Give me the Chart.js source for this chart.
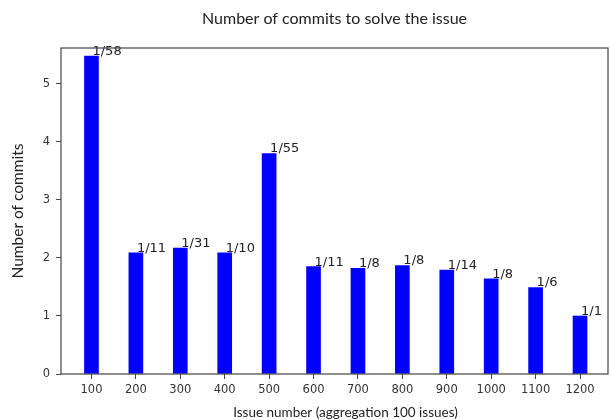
<!DOCTYPE html>
<html>
<head>
<meta charset="utf-8">
<script src="https://cdn.jsdelivr.net/npm/chart.js@4/dist/chart.umd.min.js"></script>
<style>
  html, body { margin: 0; padding: 0; background: #fff; }
  #wrap { width: 610px; height: 420px; }
</style>
</head>
<body>
<div id="wrap"><canvas id="commitsChart" width="610" height="420"></canvas></div>
<script>
// Issue buckets (aggregated by 100 issues)
const issues = [100, 200, 300, 400, 500, 600, 700, 800, 900, 1000, 1100, 1200];
// Average commits per issue in each bucket
const commits = [5.48, 2.09, 2.17, 2.09, 3.80, 1.85, 1.82, 1.87, 1.79, 1.64, 1.49, 1.0];
// Text shown on top of each bar
const barLabels = ['1/58', '1/11', '1/31', '1/10', '1/55', '1/11', '1/8', '1/8', '1/14', '1/8', '1/6', '1/1'];
const yTicks = [0, 1, 2, 3, 4, 5];

const tickFont = { family: 'DejaVu Sans', size: 11.5 };
const textFont = 'Lato';
const xCaption = 'Issue number (aggregation 100 issues)';

// Box around the plot area
const framePlugin = {
  id: 'frame',
  afterDraw(chart) {
    const { ctx, chartArea: a } = chart;
    ctx.save();
    ctx.strokeStyle = '#444';
    ctx.lineWidth = 1.2;
    ctx.strokeRect(a.left, a.top, a.right - a.left, a.bottom - a.top);
    ctx.restore();
  }
};

// "1/58" style labels just right of each bar top
const barTextPlugin = {
  id: 'barText',
  afterDatasetsDraw(chart) {
    const { ctx } = chart;
    const meta = chart.getDatasetMeta(0);
    ctx.save();
    ctx.font = '13px "DejaVu Sans"';
    ctx.fillStyle = '#222';
    ctx.textAlign = 'left';
    ctx.textBaseline = 'bottom';
    meta.data.forEach((bar, i) => {
      ctx.fillText(barLabels[i], bar.x + 1, bar.y + 2);
    });
    ctx.restore();
  }
};

// x axis caption, sits a little right of the plot centre
const xCaptionPlugin = {
  id: 'xCaption',
  afterDraw(chart) {
    const { ctx, chartArea: a } = chart;
    ctx.save();
    ctx.font = '13.5px ' + textFont;
    ctx.fillStyle = '#222';
    ctx.textAlign = 'center';
    ctx.textBaseline = 'middle';
    ctx.fillText(xCaption, (a.left + a.right) / 2 + 11, chart.height - 7);
    ctx.restore();
  }
};

const ctx = document.getElementById('commitsChart').getContext('2d');
new Chart(ctx, {
  type: 'bar',
  data: {
    datasets: [{
      data: issues.map((x, i) => ({ x: x, y: commits[i] })),
      backgroundColor: '#0000ff',
      borderWidth: 0,
      barThickness: 14
    }]
  },
  options: {
    responsive: false,
    animation: false,
    layout: { padding: { left: 0, right: 2, top: 0, bottom: 0 } },
    plugins: {
      legend: { display: false },
      tooltip: { enabled: false },
      title: {
        display: true,
        fullSize: false,
        text: 'Number of commits to solve the issue',
        color: '#222',
        font: { family: textFont, size: 16, weight: 'normal' },
        padding: { top: 9, bottom: 19.8 }
      }
    },
    scales: {
      x: {
        type: 'linear',
        offset: false,
        min: 31.4,
        max: 1263,
        afterBuildTicks(axis) { axis.ticks = issues.map(v => ({ value: v })); },
        afterFit(scale) { scale.height = 46; },
        border: { display: false },
        grid: { offset: false, drawOnChartArea: false, tickLength: 5, tickColor: '#444', tickWidth: 1 },
        ticks: {
          color: '#333', font: tickFont, padding: 4, maxRotation: 0, autoSkip: false,
          callback: v => String(v)
        }
      },
      y: {
        min: 0,
        max: 5.62,
        afterBuildTicks(axis) { axis.ticks = yTicks.map(v => ({ value: v })); },
        afterFit(scale) { scale.width = 61; },
        border: { display: false },
        grid: { drawOnChartArea: false, tickLength: 5, tickColor: '#444', tickWidth: 1 },
        ticks: { color: '#333', font: tickFont, padding: 6 },
        title: {
          display: true,
          text: 'Number of commits',
          color: '#222',
          font: { family: textFont, size: 15.5 },
          padding: { top: 9, bottom: 0 }
        }
      }
    }
  },
  plugins: [framePlugin, barTextPlugin, xCaptionPlugin]
});
</script>
</body>
</html>
